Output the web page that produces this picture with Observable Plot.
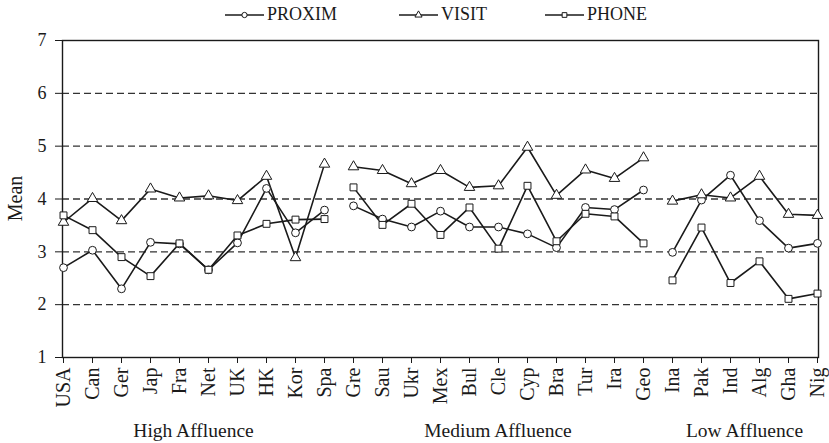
<!DOCTYPE html>
<html>
<head>
<meta charset="utf-8">
<script src="https://cdn.jsdelivr.net/npm/d3@7"></script>
<script src="https://cdn.jsdelivr.net/npm/@observablehq/plot@0.6"></script>
<style>
  html, body { margin: 0; padding: 0; background: #fff; }
  body { width: 829px; height: 443px; overflow: hidden; font-family: "Liberation Serif", "Times New Roman", serif; }
  #legend { position: relative; height: 30px; font-size: 18px; color: #1a1a1a; }
  #legend .item { position: absolute; top: 4px; display: flex; align-items: center; gap: 3px; white-space: nowrap; }
  #chart svg { display: block; }
</style>
</head>
<body>
<div id="legend"></div>
<div id="chart"></div>
<script>
const countries = ["USA","Can","Ger","Jap","Fra","Net","UK","HK","Kor","Spa",
  "Gre","Sau","Ukr","Mex","Bul","Cle","Cyp","Bra","Tur","Ira","Geo",
  "Ina","Pak","Ind","Alg","Gha","Nig"];
const groups = ["High Affluence","Medium Affluence","Low Affluence"];
const groupSizes = [10, 11, 6];
const seriesNames = ["PROXIM","VISIT","PHONE"];
const yTicks = [1,2,3,4,5,6,7];
const gridValues = [2,3,4,5,6];

const proxim = [2.70,3.03,2.30,3.18,3.15,2.66,3.17,4.20,3.36,3.79,
  3.87,3.62,3.47,3.77,3.47,3.47,3.34,3.08,3.84,3.80,4.17,
  2.99,3.98,4.45,3.59,3.07,3.16];
const visit = [3.56,4.01,3.59,4.19,4.02,4.06,3.97,4.43,2.89,4.66,
  4.61,4.54,4.29,4.54,4.22,4.25,4.98,4.07,4.55,4.39,4.78,
  3.96,4.08,4.02,4.43,3.71,3.69];
const phone = [3.69,3.41,2.90,2.54,3.16,2.66,3.31,3.53,3.61,3.62,
  4.22,3.51,3.91,3.32,3.84,3.06,4.25,3.20,3.72,3.67,3.16,
  2.46,3.46,2.41,2.82,2.11,2.21];

const seriesValues = [proxim, visit, phone];
const d3Symbols = [d3.symbolCircle, d3.symbolTriangle, d3.symbolSquare];
const groupOf = [];
groupSizes.forEach((n, g) => { for (let i = 0; i < n; i++) groupOf.push(groups[g]); });

const data = [];
seriesNames.forEach((s, si) => {
  countries.forEach((c, ci) => {
    data.push({series: s, country: c, value: seriesValues[si][ci], group: groupOf[ci]});
  });
});

const INK = "#1a1a1a";
const plot = Plot.plot({
  width: 829,
  height: 413,
  marginLeft: 62,
  marginRight: 11,
  marginTop: 10,
  marginBottom: 86,
  style: {fontFamily: "Liberation Serif, Times New Roman, serif", fontSize: "19px", color: INK, background: "#fff"},
  x: {type: "point", domain: countries, padding: 0},
  y: {domain: [1, 7]},
  symbol: {domain: seriesNames, range: d3Symbols},
  marks: [
    Plot.ruleY(gridValues, {stroke: "#333", strokeWidth: 1.4, strokeDasharray: "7,4"}),
    Plot.frame({stroke: INK, strokeWidth: 1.4}),
    Plot.axisY({ticks: yTicks, tickFormat: "d", tickSize: 7, tickPadding: 9, fontSize: 18, label: null, stroke: INK}),
    Plot.axisX({tickSize: 6, tickPadding: 4, tickRotate: -90, fontSize: 20, label: null, stroke: INK}),
    Plot.line(data, {x: "country", y: "value", z: d => d.series + "|" + d.group, stroke: INK, strokeWidth: 1.6}),
    Plot.dot(data, {x: "country", y: "value", symbol: "series", r: 3.9, fill: "white", stroke: INK, strokeWidth: 1})
  ]
});

// group labels under the axis, centred on their categories
const xs = plot.scale("x");
const svg = d3.select(plot);
let start = 0;
groups.forEach((g, gi) => {
  const first = countries[start], last = countries[start + groupSizes[gi] - 1];
  const cx = (xs.apply(first) + xs.apply(last)) / 2;
  svg.append("text")
    .attr("x", cx).attr("y", 407)
    .attr("text-anchor", "middle")
    .attr("fill", INK)
    .style("font-size", "19.5px")
    .text(g);
  start += groupSizes[gi];
});
// y label
svg.append("text")
  .attr("transform", `translate(22, ${plot.scale("y").apply(4)}) rotate(-90)`)
  .attr("text-anchor", "middle")
  .attr("fill", INK)
  .style("font-size", "20px")
  .text("Mean");

document.getElementById("chart").appendChild(plot);

// legend
const legend = d3.select("#legend");
const legendLeft = [225, 399, 545];
seriesNames.forEach((s, i) => {
  const item = legend.append("div").attr("class", "item").style("left", legendLeft[i] + "px");
  const g = item.append("svg").attr("width", 39).attr("height", 12);
  g.append("line").attr("x1", 0).attr("x2", 39).attr("y1", 6).attr("y2", 6).attr("stroke", INK).attr("stroke-width", 1.6);
  g.append("path").attr("transform", "translate(19.5,6)")
    .attr("d", d3.symbol(d3Symbols[i], 22)())
    .attr("fill", "white").attr("stroke", INK).attr("stroke-width", 1);
  item.append("span").text(s);
});
</script>
</body>
</html>
